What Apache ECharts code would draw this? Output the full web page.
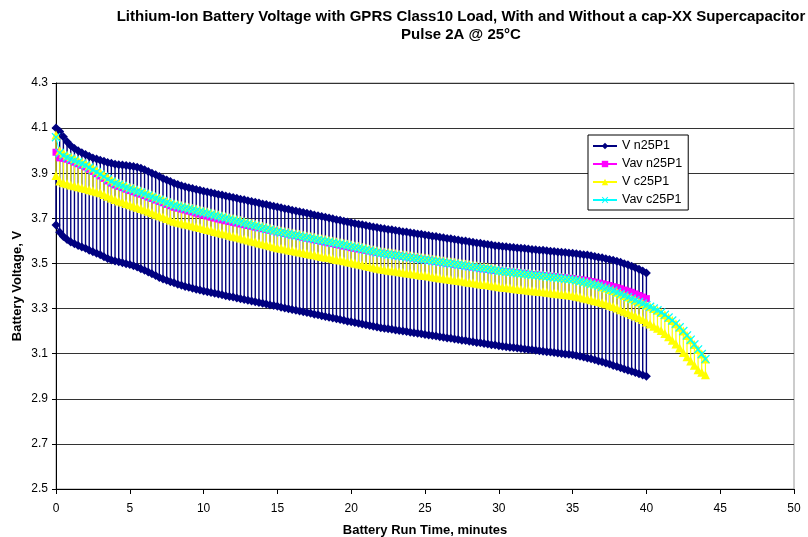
<!DOCTYPE html>
<html><head><meta charset="utf-8">
<script src="https://cdn.jsdelivr.net/npm/echarts@6/dist/echarts.min.js"></script>
<style>html,body{margin:0;padding:0;background:#fff}#c{width:808px;height:537px}</style>
</head><body><div id="c"></div>
<script>
// sampling step of all series, minutes
const STEP_MIN = 0.25;

// V n25P1: voltage during the idle part (upper) and during the 2A pulse (lower), 0..40 min
const vn25P1_high = [
4.100,4.085,4.062,4.040, 4.022,4.010,4.000,3.991, 3.983,3.975,3.968,3.963, 3.958,3.953,3.948,3.944,
3.940,3.938,3.936,3.934, 3.932,3.930,3.927,3.922, 3.915,3.908,3.900,3.893, 3.885,3.877,3.870,3.863,
3.856,3.850,3.845,3.840, 3.836,3.832,3.828,3.824, 3.820,3.817,3.813,3.810, 3.806,3.803,3.799,3.796,
3.792,3.789,3.785,3.782, 3.778,3.775,3.771,3.768, 3.764,3.761,3.757,3.754, 3.750,3.747,3.743,3.740,
3.736,3.733,3.729,3.726, 3.722,3.719,3.715,3.712, 3.708,3.705,3.701,3.698, 3.694,3.691,3.687,3.684,
3.680,3.677,3.674,3.671, 3.668,3.665,3.662,3.659, 3.656,3.654,3.651,3.649, 3.646,3.644,3.641,3.639,
3.636,3.634,3.631,3.629, 3.626,3.624,3.621,3.619, 3.616,3.614,3.611,3.609, 3.606,3.604,3.601,3.599,
3.596,3.594,3.591,3.589, 3.586,3.584,3.582,3.579, 3.577,3.575,3.574,3.572, 3.571,3.569,3.567,3.566,
3.564,3.562,3.561,3.559, 3.558,3.556,3.554,3.553, 3.551,3.550,3.548,3.546, 3.545,3.543,3.541,3.539,
3.537,3.534,3.531,3.528, 3.525,3.521,3.518,3.514, 3.510,3.505,3.499,3.494, 3.488,3.481,3.474,3.466,
3.458];
const vn25P1_low = [
3.670,3.638,3.620,3.606, 3.595,3.587,3.580,3.573, 3.567,3.559,3.552,3.545, 3.538,3.530,3.522,3.515,
3.511,3.507,3.503,3.499, 3.495,3.490,3.484,3.477, 3.470,3.462,3.454,3.446, 3.438,3.431,3.425,3.419,
3.414,3.408,3.403,3.398, 3.394,3.390,3.386,3.382, 3.378,3.375,3.371,3.368, 3.364,3.361,3.357,3.354,
3.351,3.347,3.344,3.340, 3.337,3.333,3.330,3.327, 3.323,3.320,3.316,3.313, 3.310,3.306,3.303,3.299,
3.296,3.292,3.289,3.286, 3.282,3.279,3.275,3.272, 3.268,3.265,3.262,3.258, 3.255,3.251,3.248,3.244,
3.241,3.238,3.235,3.231, 3.228,3.225,3.222,3.218, 3.215,3.213,3.210,3.208, 3.205,3.203,3.200,3.198,
3.195,3.193,3.190,3.188, 3.185,3.183,3.180,3.178, 3.175,3.173,3.170,3.168, 3.165,3.163,3.160,3.158,
3.155,3.153,3.150,3.148, 3.145,3.143,3.140,3.138, 3.135,3.133,3.131,3.129, 3.127,3.125,3.123,3.121,
3.119,3.117,3.115,3.113, 3.111,3.109,3.107,3.105, 3.103,3.101,3.099,3.097, 3.095,3.092,3.088,3.085,
3.081,3.077,3.073,3.068, 3.064,3.059,3.054,3.048, 3.043,3.038,3.032,3.027, 3.022,3.016,3.011,3.005,
3.000];
// Vav n25P1, 0..40 min
const vavn25P1 = [
3.993,3.968,3.966,3.962, 3.956,3.949,3.942,3.935, 3.928,3.918,3.908,3.898, 3.888,3.877,3.866,3.856,
3.848,3.842,3.836,3.829, 3.823,3.818,3.812,3.807, 3.801,3.794,3.788,3.781, 3.775,3.769,3.762,3.756,
3.749,3.745,3.741,3.737, 3.732,3.728,3.723,3.719, 3.714,3.710,3.705,3.701, 3.697,3.693,3.689,3.686,
3.682,3.679,3.675,3.672, 3.668,3.665,3.661,3.658, 3.654,3.651,3.647,3.644, 3.640,3.637,3.633,3.630,
3.626,3.623,3.619,3.616, 3.612,3.609,3.605,3.602, 3.598,3.595,3.591,3.588, 3.584,3.581,3.577,3.574,
3.570,3.567,3.564,3.561, 3.558,3.555,3.552,3.549, 3.546,3.544,3.541,3.539, 3.536,3.534,3.531,3.529,
3.526,3.524,3.521,3.519, 3.516,3.514,3.511,3.509, 3.506,3.504,3.501,3.499, 3.496,3.494,3.491,3.489,
3.486,3.484,3.481,3.479, 3.476,3.474,3.471,3.469, 3.467,3.465,3.463,3.462, 3.460,3.458,3.457,3.455,
3.453,3.451,3.450,3.448, 3.446,3.444,3.443,3.441, 3.439,3.437,3.436,3.434, 3.433,3.430,3.428,3.426,
3.423,3.420,3.417,3.413, 3.410,3.406,3.402,3.397, 3.393,3.388,3.382,3.377, 3.372,3.365,3.358,3.351,
3.344];
// V c25P1: upper and lower levels, 0..44 min
const vc25P1_high = [
4.070,4.000,3.988,3.980, 3.973,3.965,3.958,3.951, 3.943,3.933,3.923,3.913, 3.903,3.892,3.881,3.871,
3.863,3.857,3.851,3.844, 3.838,3.833,3.827,3.822, 3.816,3.809,3.803,3.796, 3.790,3.784,3.777,3.771,
3.765,3.761,3.757,3.753, 3.749,3.745,3.741,3.737, 3.733,3.729,3.725,3.720, 3.716,3.712,3.708,3.703,
3.699,3.695,3.691,3.686, 3.682,3.678,3.674,3.669, 3.665,3.661,3.657,3.652, 3.648,3.645,3.642,3.638,
3.635,3.632,3.629,3.625, 3.622,3.619,3.616,3.612, 3.609,3.606,3.603,3.599, 3.596,3.593,3.590,3.586,
3.583,3.579,3.576,3.572, 3.568,3.564,3.561,3.557, 3.553,3.551,3.548,3.546, 3.544,3.541,3.539,3.536,
3.534,3.531,3.529,3.526, 3.524,3.522,3.519,3.517, 3.514,3.512,3.509,3.507, 3.505,3.502,3.500,3.497,
3.495,3.492,3.490,3.487, 3.485,3.483,3.480,3.478, 3.471,3.469,3.467,3.465, 3.463,3.461,3.459,3.457,
3.455,3.453,3.452,3.450, 3.448,3.446,3.444,3.442, 3.440,3.438,3.436,3.434, 3.432,3.429,3.425,3.421,
3.417,3.413,3.409,3.405, 3.396,3.391,3.385,3.379, 3.372,3.365,3.358,3.351, 3.344,3.337,3.329,3.322,
3.315,3.308,3.300,3.292, 3.283,3.272,3.260,3.247, 3.233,3.217,3.200,3.181, 3.162,3.141,3.119,3.098,
3.076];
const vc25P1_low = [
3.890,3.865,3.858,3.853, 3.848,3.844,3.840,3.836, 3.832,3.827,3.822,3.818, 3.813,3.806,3.798,3.790,
3.783,3.777,3.772,3.766, 3.760,3.755,3.749,3.744, 3.738,3.731,3.725,3.718, 3.712,3.706,3.699,3.693,
3.687,3.683,3.679,3.675, 3.671,3.667,3.663,3.659, 3.655,3.651,3.647,3.642, 3.638,3.634,3.630,3.625,
3.621,3.617,3.613,3.608, 3.604,3.600,3.596,3.591, 3.587,3.583,3.579,3.574, 3.570,3.567,3.564,3.560,
3.557,3.554,3.551,3.547, 3.544,3.541,3.538,3.534, 3.531,3.528,3.525,3.521, 3.518,3.515,3.512,3.508,
3.505,3.501,3.498,3.494, 3.490,3.486,3.483,3.479, 3.475,3.473,3.470,3.468, 3.466,3.463,3.461,3.458,
3.456,3.453,3.451,3.448, 3.446,3.444,3.441,3.439, 3.436,3.434,3.431,3.429, 3.427,3.424,3.422,3.419,
3.417,3.414,3.412,3.409, 3.407,3.405,3.402,3.400, 3.397,3.395,3.393,3.391, 3.389,3.387,3.385,3.383,
3.381,3.379,3.378,3.376, 3.374,3.372,3.370,3.368, 3.366,3.364,3.362,3.360, 3.358,3.355,3.351,3.347,
3.343,3.339,3.335,3.331, 3.326,3.321,3.315,3.309, 3.302,3.295,3.288,3.281, 3.274,3.267,3.259,3.252,
3.240,3.232,3.222,3.213, 3.203,3.189,3.175,3.159, 3.143,3.125,3.105,3.086, 3.067,3.049,3.029,3.018,
3.006];
// Vav c25P1, 0..44 min
const vavc25P1 = [
4.060,3.990,3.978,3.970, 3.963,3.956,3.949,3.942, 3.935,3.925,3.915,3.905, 3.895,3.884,3.873,3.863,
3.855,3.849,3.843,3.836, 3.830,3.825,3.819,3.814, 3.808,3.801,3.795,3.788, 3.782,3.776,3.769,3.763,
3.757,3.753,3.749,3.745, 3.741,3.737,3.733,3.729, 3.725,3.721,3.717,3.712, 3.708,3.704,3.700,3.695,
3.691,3.687,3.683,3.678, 3.674,3.670,3.666,3.661, 3.657,3.653,3.649,3.644, 3.640,3.637,3.634,3.630,
3.627,3.624,3.621,3.617, 3.614,3.611,3.608,3.604, 3.601,3.598,3.595,3.591, 3.588,3.585,3.582,3.578,
3.575,3.571,3.568,3.564, 3.560,3.556,3.553,3.549, 3.545,3.543,3.540,3.538, 3.536,3.533,3.531,3.528,
3.526,3.523,3.521,3.518, 3.516,3.514,3.511,3.509, 3.506,3.504,3.501,3.499, 3.497,3.494,3.492,3.489,
3.487,3.484,3.482,3.479, 3.477,3.475,3.472,3.470, 3.467,3.465,3.463,3.461, 3.459,3.457,3.455,3.453,
3.451,3.449,3.448,3.446, 3.444,3.442,3.440,3.438, 3.436,3.434,3.432,3.430, 3.428,3.425,3.421,3.417,
3.413,3.409,3.405,3.401, 3.396,3.391,3.385,3.379, 3.372,3.365,3.358,3.351, 3.344,3.337,3.329,3.322,
3.315,3.308,3.300,3.292, 3.283,3.272,3.260,3.247, 3.233,3.217,3.200,3.181, 3.162,3.141,3.119,3.098,
3.076];

const seriesNames = ['V n25P1', 'Vav n25P1', 'V c25P1', 'Vav c25P1'];
const xTicks = {min: 0, max: 50, step: 5};
const yTicks = {min: 2.5, max: 4.3, step: 0.2};

// pulsed trace: alternate between the two levels at each sample
function pulsed(hi, lo) {
  const pts = [];
  for (let i = 0; i < hi.length; i++) {
    const t = i * STEP_MIN;
    if (i % 2 === 0) { pts.push([t, hi[i]], [t, lo[i]]); }
    else { pts.push([t, lo[i]], [t, hi[i]]); }
  }
  return pts;
}
function plain(v) { return v.map((y, i) => [i * STEP_MIN, y]); }

const FONT = 'Arial, "Liberation Sans", sans-serif';
const X_SYMBOL = 'path://M1,0L5,4L9,0L10,1L6,5L10,9L9,10L5,6L1,10L0,9L4,5L0,1Z';

const chart = echarts.init(document.getElementById('c'), null, {renderer: 'canvas'});
chart.setOption({
  animation: false,
  backgroundColor: '#fff',
  textStyle: {fontFamily: FONT},
  title: {
    text: 'Lithium-Ion Battery Voltage with GPRS Class10 Load, With and Without a cap-XX Supercapacitor\nPulse 2A @ 25°C',
    left: 456, top: 3, textAlign: 'center',
    textStyle: {fontFamily: FONT, fontSize: 15, fontWeight: 'bold', color: '#000', lineHeight: 18}
  },
  grid: {left: 56, right: 14, top: 83, bottom: 48, outerBoundsMode: 'none', containLabel: false,
         show: true, borderColor: '#999', borderWidth: 1, backgroundColor: 'transparent'},
  legend: {
    orient: 'vertical', left: 588, top: 135,
    data: seriesNames,
    backgroundColor: '#fff', borderColor: '#000', borderWidth: 1,
    padding: [4, 6, 3, 4], itemGap: 4, itemWidth: 24, itemHeight: 8,
    textStyle: {fontFamily: FONT, fontSize: 12.5, color: '#000', lineHeight: 14}
  },
  xAxis: {
    type: 'value', min: xTicks.min, max: xTicks.max, interval: xTicks.step,
    name: 'Battery Run Time, minutes', nameLocation: 'middle', nameGap: 35, nameMoveOverlap: false,
    nameTextStyle: {fontFamily: FONT, fontSize: 13, fontWeight: 'bold', color: '#000'},
    axisLine: {show: true, onZero: false, lineStyle: {color: '#000', width: 1}},
    axisTick: {show: true, length: 5, lineStyle: {color: '#000'}},
    axisLabel: {fontFamily: FONT, fontSize: 12, color: '#000', margin: 14},
    splitLine: {show: false}
  },
  yAxis: {
    type: 'value', min: yTicks.min, max: yTicks.max, interval: yTicks.step,
    name: 'Battery Voltage, V', nameLocation: 'middle', nameGap: 32, nameMoveOverlap: false,
    nameTextStyle: {fontFamily: FONT, fontSize: 13, fontWeight: 'bold', color: '#000'},
    axisLine: {show: true, onZero: false, lineStyle: {color: '#000', width: 1}},
    axisTick: {show: true, length: 4, lineStyle: {color: '#000'}},
    axisLabel: {fontFamily: FONT, fontSize: 12, color: '#000', margin: 8, formatter: v => v.toFixed(1)},
    splitLine: {show: true, lineStyle: {color: '#333', width: 1}}
  },
  series: [
    {name: seriesNames[0], type: 'line', data: pulsed(vn25P1_high, vn25P1_low),
     symbol: 'diamond', symbolSize: 9, showAllSymbol: true,
     lineStyle: {color: '#000080', width: 1.4}, itemStyle: {color: '#000080'}},
    {name: seriesNames[1], type: 'line', data: plain(vavn25P1),
     symbol: 'rect', symbolSize: 7, showAllSymbol: true,
     lineStyle: {color: '#FF00FF', width: 1}, itemStyle: {color: '#FF00FF'}},
    {name: seriesNames[2], type: 'line', data: pulsed(vc25P1_high, vc25P1_low),
     symbol: 'triangle', symbolSize: 9, showAllSymbol: true,
     lineStyle: {color: '#FFFF00', width: 1.2}, itemStyle: {color: '#FFFF00'}},
    {name: seriesNames[3], type: 'line', data: plain(vavc25P1),
     symbol: X_SYMBOL, symbolSize: 9, showAllSymbol: true,
     lineStyle: {color: '#00FFFF', width: 1}, itemStyle: {color: '#00FFFF'}}
  ]
});
</script>
</body></html>
